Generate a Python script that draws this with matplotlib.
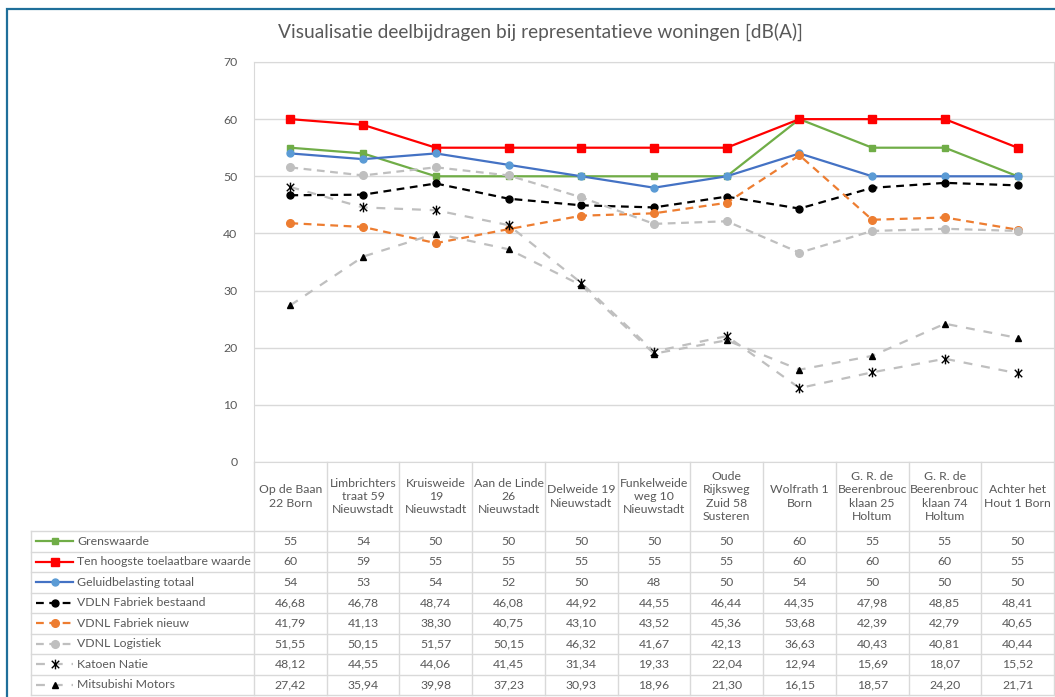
import matplotlib
matplotlib.use('Agg')
import matplotlib.pyplot as plt
from matplotlib.lines import Line2D
from matplotlib.patches import Rectangle
from matplotlib.path import Path

plt.rcParams['font.family'] = ['Lato', 'DejaVu Sans']

# data
locations = ['Op de Baan\n22 Born', 'Limbrichters\ntraat 59\nNieuwstadt', 'Kruisweide\n19\nNieuwstadt',
             'Aan de Linde\n26\nNieuwstadt', 'Delweide 19\nNieuwstadt', 'Funkelweide\nweg 10\nNieuwstadt',
             'Oude\nRijksweg\nZuid 58\nSusteren', 'Wolfrath 1\nBorn', 'G. R. de\nBeerenbrouc\nklaan 25\nHoltum',
             'G. R. de\nBeerenbrouc\nklaan 74\nHoltum', 'Achter het\nHout 1 Born']
grenswaarde = [55, 54, 50, 50, 50, 50, 50, 60, 55, 55, 50]
ten_hoogste = [60, 59, 55, 55, 55, 55, 55, 60, 60, 60, 55]
totaal = [54, 53, 54, 52, 50, 48, 50, 54, 50, 50, 50]
vdln_bestaand = [46.68, 46.78, 48.74, 46.08, 44.92, 44.55, 46.44, 44.35, 47.98, 48.85, 48.41]
vdnl_nieuw = [41.79, 41.13, 38.30, 40.75, 43.10, 43.52, 45.36, 53.68, 42.39, 42.79, 40.65]
vdnl_logistiek = [51.55, 50.15, 51.57, 50.15, 46.32, 41.67, 42.13, 36.63, 40.43, 40.81, 40.44]
katoen = [48.12, 44.55, 44.06, 41.45, 31.34, 19.33, 22.04, 12.94, 15.69, 18.07, 15.52]
mitsubishi = [27.42, 35.94, 39.98, 37.23, 30.93, 18.96, 21.30, 16.15, 18.57, 24.20, 21.71]

star = Path([(-1, -1), (1, 1), (-1, 1), (1, -1), (0, -1.3), (0, 1.3)],
            [Path.MOVETO, Path.LINETO, Path.MOVETO, Path.LINETO, Path.MOVETO, Path.LINETO])

# name, values, line colour, linestyle, marker, marker colour, marker size, integer format
series = [
    ('Grenswaarde', grenswaarde, '#70ad47', '-', 's', '#70ad47', 5, True),
    ('Ten hoogste toelaatbare waarde', ten_hoogste, '#ff0000', '-', 's', '#ff0000', 5.5, True),
    ('Geluidbelasting totaal', totaal, '#4472c4', '-', 'o', '#5b9bd5', 5, True),
    ('VDLN Fabriek bestaand', vdln_bestaand, '#000000', (0, (3.5, 2.5)), 'o', '#000000', 5, False),
    ('VDNL Fabriek nieuw', vdnl_nieuw, '#ed7d31', (0, (3.5, 2.5)), 'o', '#ed7d31', 5.5, False),
    ('VDNL Logistiek', vdnl_logistiek, '#bfbfbf', (0, (3.5, 2.5)), 'o', '#bfbfbf', 5.5, False),
    ('Katoen Natie', katoen, '#bfbfbf', (0, (4, 4)), star, '#000000', 7, False),
    ('Mitsubishi Motors', mitsubishi, '#bfbfbf', (0, (4, 4)), '^', '#000000', 5, False),
]

W, H = 1055, 697
fig = plt.figure(figsize=(W / 100, H / 100), dpi=100)

def fx(x):
    return x / W

def fy(y):
    return 1 - y / H

grid_c = '#d9d9d9'
text_c = '#595959'

left, right, top, bottom = 254, 1054, 62, 462
ax = fig.add_axes([fx(left), fy(bottom), fx(right - left), fy(top) - fy(bottom)])
n = len(locations)
xs = [i + 0.5 for i in range(n)]
for name, vals, col, ls, mk, mcol, ms, _ in series:
    ax.plot(xs, vals, color=col, linestyle=ls, lw=1.6, marker=mk, markersize=ms,
            markerfacecolor=mcol, markeredgecolor=mcol, markeredgewidth=1.0 if mk is star else 1)
ax.set_xlim(0, n)
ax.set_ylim(0, 70)
ax.set_yticks(range(0, 71, 10))
ax.set_xticks([])
ax.grid(axis='y', color=grid_c, lw=1)
ax.set_axisbelow(True)
for s in ax.spines.values():
    s.set_color(grid_c)
ax.tick_params(axis='y', length=0, labelcolor=text_c, labelsize=8.8, pad=12)

fig.text(fx(540), fy(32), 'Visualisatie deelbijdragen bij representatieve woningen [dB(A)]',
         ha='center', va='center', fontsize=13.8, color=text_c)

# data table
tab_left = 31
header_bot = 531
row_h = 20.5
rows_y = [header_bot + i * row_h for i in range(len(series) + 1)]
colw = (right - left) / n

def hline(y, x0, x1):
    fig.add_artist(Line2D([fx(x0), fx(x1)], [fy(y), fy(y)], color=grid_c, lw=1))

def vline(x, y0, y1):
    fig.add_artist(Line2D([fx(x), fx(x)], [fy(y0), fy(y1)], color=grid_c, lw=1))

for y in rows_y:
    hline(y, tab_left, right)
vline(tab_left, header_bot, rows_y[-1])
for i in range(n + 1):
    vline(left + i * colw, bottom, rows_y[-1])

for i, lab in enumerate(locations):
    fig.text(fx(left + (i + 0.5) * colw), fy((bottom + header_bot) / 2), lab, ha='center', va='center',
             fontsize=8.8, color=text_c, linespacing=1.25)

for r, (name, vals, col, ls, mk, mcol, ms, is_int) in enumerate(series):
    yc = rows_y[r] + row_h / 2
    fig.add_artist(Line2D([fx(36), fx(73)], [fy(yc), fy(yc)], color=col, linestyle=ls, lw=1.6))
    fig.add_artist(Line2D([fx(54.5)], [fy(yc)], marker=mk, markersize=ms, color=mcol,
                          markerfacecolor=mcol, markeredgecolor=mcol, linestyle='none'))
    fig.text(fx(77), fy(yc), name, ha='left', va='center', fontsize=8.8, color=text_c)
    for i, v in enumerate(vals):
        s = str(int(v)) if is_int else f'{v:.2f}'.replace('.', ',')
        fig.text(fx(left + (i + 0.5) * colw), fy(yc), s, ha='center', va='center',
                 fontsize=8.8, color=text_c)

# outer frame
fig.add_artist(Rectangle((fx(7), fy(720)), fx(1100), fy(9) - fy(720), fill=False,
                         edgecolor='#1f6f9a', lw=1.6))

fig.savefig('out.png', dpi=100)
